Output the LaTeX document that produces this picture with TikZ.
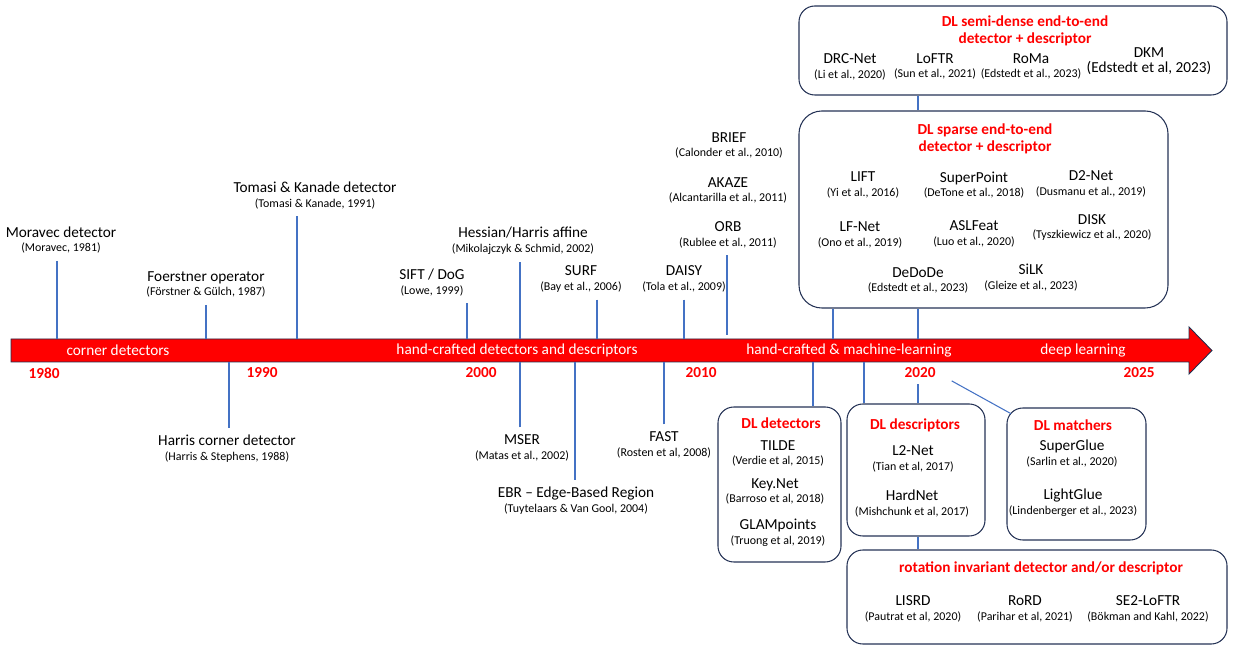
\documentclass[tikz,border=0pt]{standalone}
\usepackage{fontspec}
\setmainfont{Carlito}
\usetikzlibrary{fit}
\definecolor{barred}{HTML}{FF0000}
\definecolor{barline}{HTML}{1F2F4F}
\definecolor{tickblue}{HTML}{4472C4}
\definecolor{boxline}{HTML}{253356}
\newcommand{\refc}[1]{{\fontsize{6.8}{7}\selectfont #1}}

\begin{document}
\begin{tikzpicture}[x=0.02cm,y=-0.02cm,
    font=\fontsize{8.7}{8.4}\selectfont,
    itm/.style={align=center,inner sep=1pt},
    tick/.style={draw=tickblue,line width=0.6pt},
    gap/.style={shorten <=3pt},
    dlbox/.style={draw=boxline,line width=0.6pt,rounded corners=9pt,inner sep=0pt},
    dlhead/.style={text=barred,font=\fontsize{8.7}{9.8}\selectfont\bfseries,align=center},
    year/.style={text=barred,font=\fontsize{8.7}{10}\selectfont\bfseries},
    era/.style={text=white}]
    \useasboundingbox (0,0) rectangle (1234,651);

    % timeline
    \draw[draw=barline,fill=barred,line width=0.5pt] (11,339) -- (1189,339) -- (1189,327)
      -- (1212,350.5) -- (1189,374) -- (1189,362) -- (11,362) -- cycle;
    \node[era] (e1) at (118,350.5) {corner detectors};
    \node[era] (e2) at (517,350.5) {hand-crafted detectors and descriptors};
    \node[era] (e3) at (849,350.5) {hand-crafted \& machine-learning};
    \node[era] (e4) at (1083,350.5) {deep learning};
    \node[year] (y1980) at (44,373) {1980};
    \node[year] (y1990) at (262,373) {1990};
    \node[year] (y2000) at (481,373) {2000};
    \node[year] (y2010) at (701,373) {2010};
    \node[year] (y2020) at (920,373) {2020};
    \node[year] (y2025) at (1139,373) {2025};

    % tick points on the bar
    \coordinate (tmor) at (57,339);   \coordinate (tfoe) at (206,339);
    \coordinate (ttom) at (297,339);  \coordinate (tsift) at (467,339);
    \coordinate (thes) at (520,339);  \coordinate (tsurf) at (597,339);
    \coordinate (tdaisy) at (684,339); \coordinate (torb) at (727,335);
    \coordinate (tsp1) at (833,339);  \coordinate (tsp2) at (918,339);
    \coordinate (thar) at (229,362);  \coordinate (tmser) at (520,362);
    \coordinate (tebr) at (575,362);  \coordinate (tfast) at (664,362);
    \coordinate (tdet) at (813,362);  \coordinate (tdesc) at (864,362);

    % hand-crafted, above
    \node[itm] (mor) at (61,240) {Moravec detector\\\refc{(Moravec, 1981)}};
    \node[itm] (foe) at (206,284.5) {Foerstner operator\\\refc{(Förstner \& Gülch, 1987)}};
    \node[itm] (tom) at (315,195.5) {Tomasi \& Kanade detector\\\refc{(Tomasi \& Kanade, 1991)}};
    \node[itm] (sift) at (432,282.5) {SIFT / DoG\\\refc{(Lowe, 1999)}};
    \node[itm] (hes) at (523,241) {Hessian/Harris affine\\\refc{(Mikolajczyk \& Schmid, 2002)}};
    \node[itm] (surf) at (581,279) {SURF\\\refc{(Bay et al., 2006)}};
    \node[itm] (daisy) at (684,279) {DAISY\\\refc{(Tola et al., 2009)}};
    \node[itm] (brief) at (729,145.5) {BRIEF\\\refc{(Calonder et al., 2010)}};
    \node[itm] (akaze) at (728,190.5) {AKAZE\\\refc{(Alcantarilla et al., 2011)}};
    \node[itm] (orb) at (728,234.5) {ORB\\\refc{(Rublee et al., 2011)}};
    \draw[tick,gap] (tmor |- mor.south) -- (tmor);
    \draw[tick,gap] (tfoe |- foe.south) -- (tfoe);
    \draw[tick,gap] (ttom |- tom.south) -- (ttom);
    \draw[tick,gap] (tsift |- sift.south) -- (tsift);
    \draw[tick,gap] (thes |- hes.south) -- (thes);
    \draw[tick,gap] (tsurf |- surf.south) -- (tsurf);
    \draw[tick,gap] (tdaisy |- daisy.south) -- (tdaisy);
    \draw[tick,gap] (torb |- orb.south) -- (torb);

    % hand-crafted, below
    \node[itm] (har) at (227,449) {Harris corner detector\\\refc{(Harris \& Stephens, 1988)}};
    \node[itm] (mser) at (522,448) {MSER\\\refc{(Matas et al., 2002)}};
    \node[itm] (ebr) at (576,501) {EBR -- Edge-Based Region\\\refc{(Tuytelaars \& Van Gool, 2004)}};
    \node[itm] (fast) at (664,445) {FAST\\\refc{(Rosten et al, 2008)}};
    \draw[tick,gap] (thar |- har.north) -- (thar);
    \draw[tick,gap] (tmser |- mser.north) -- (tmser);
    \draw[tick,gap] (tebr |- ebr.north) -- (tebr);
    \draw[tick,gap] (tfast |- fast.north) -- (tfast);

    % DL semi-dense
    \node[dlbox,fit={(799,6) (1227,95)}] (semi) {};
    \node[dlhead] (semih) at (1025,30.5) {DL semi-dense end-to-end\\detector + descriptor};
    \node[itm] (drc) at (850,66.5) {DRC-Net\\\refc{(Li et al., 2020)}};
    \node[itm] (loftr) at (935,66.5) {LoFTR\\\refc{(Sun et al., 2021)}};
    \node[itm] (roma) at (1031,66.5) {RoMa\\\refc{(Edstedt et al., 2023)}};
    \node[itm] (dkm) at (1149,61.5) {DKM\\(Edstedt et al, 2023)};

    % DL sparse
    \node[dlbox,rounded corners=13pt,fit={(799,111) (1168,308)}] (sparse) {};
    \node[dlhead] (sparseh) at (985,139) {DL sparse end-to-end\\detector + descriptor};
    \node[itm] (lift) at (863,185) {LIFT\\\refc{(Yi et al., 2016)}};
    \node[itm] (spt) at (974,185) {SuperPoint\\\refc{(DeTone et al., 2018)}};
    \node[itm] (d2) at (1091,183.5) {D2-Net\\\refc{(Dusmanu et al., 2019)}};
    \node[itm] (lfnet) at (860,235) {LF-Net\\\refc{(Ono et al., 2019)}};
    \node[itm] (asl) at (974,233.5) {ASLFeat\\\refc{(Luo et al., 2020)}};
    \node[itm] (disk) at (1092,227.5) {DISK\\\refc{(Tyszkiewicz et al., 2020)}};
    \node[itm] (dedode) at (918,280.5) {DeDoDe\\\refc{(Edstedt et al., 2023)}};
    \node[itm] (silk) at (1031,277.5) {SiLK\\\refc{(Gleize et al., 2023)}};
    \draw[tick] (semi.south -| tsp2) -- (sparse.north -| tsp2);
    \draw[tick] (sparse.south -| tsp1) -- (tsp1);
    \draw[tick] (sparse.south -| tsp2) -- (tsp2);

    % DL detectors
    \node[dlbox,fit={(718,407) (841,562)}] (det) {};
    \node[dlhead] (deth) at (781,423) {DL detectors};
    \node[itm] (tilde) at (778,453.5) {TILDE\\\refc{(Verdie et al, 2015)}};
    \node[itm] (keynet) at (775,491.5) {Key.Net\\\refc{(Barroso et al, 2018)}};
    \node[itm] (glam) at (778,532.5) {GLAMpoints\\\refc{(Truong et al, 2019)}};
    \draw[tick] (tdet) -- (det.north -| tdet);

    % DL descriptors
    \node[dlbox,fit={(847,404) (985,536)}] (desc) {};
    \node[dlhead] (desch) at (915,425) {DL descriptors};
    \node[itm] (l2) at (913,458.5) {L2-Net\\\refc{(Tian et al, 2017)}};
    \node[itm] (hard) at (912,503.5) {HardNet\\\refc{(Mishchunk et al, 2017)}};
    \draw[tick] (tdesc) -- (desc.north -| tdesc);
    \draw[tick] (tsp2 |- y2020.south) -- (desc.north -| tsp2);

    % DL matchers
    \node[dlbox,fit={(1007,408) (1146,540)}] (match) {};
    \node[dlhead] (matchh) at (1073,425) {DL matchers};
    \node[itm] (sglue) at (1072,453.5) {SuperGlue\\\refc{(Sarlin et al., 2020)}};
    \node[itm] (lglue) at (1073,503) {LightGlue\\\refc{(Lindenberger et al., 2023)}};
    \draw[tick] ([xshift=5.7pt,yshift=-4.5pt]y2020.east) -- ([xshift=2.5pt,yshift=-3.5pt]match.north west);

    % rotation invariant
    \node[dlbox,fit={(847,550) (1227,644)}] (rot) {};
    \node[dlhead] (roth) at (1041,568) {rotation invariant detector and/or descriptor};
    \node[itm] (lisrd) at (913,609) {LISRD\\\refc{(Pautrat et al, 2020)}};
    \node[itm] (rord) at (1025,609) {RoRD\\\refc{(Parihar et al, 2021)}};
    \node[itm] (se2) at (1148,609) {SE2-LoFTR\\\refc{(Bökman and Kahl, 2022)}};
    \draw[tick] (desc.south -| tsp2) -- (rot.north -| tsp2);
  \end{tikzpicture}
\end{document}
